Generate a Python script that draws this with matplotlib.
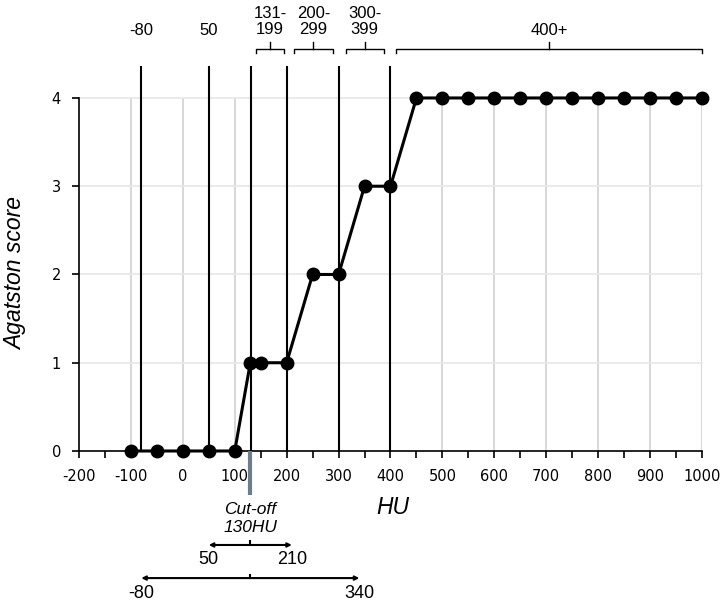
import matplotlib.pyplot as plt
import numpy as np

# Agatston score vs HU threshold
hu = [-100, -50, 0, 50, 100, 130, 150, 200, 250, 300, 350, 400,
      450, 500, 550, 600, 650, 700, 750, 800, 850, 900, 950, 1000]
score = [0, 0, 0, 0, 0, 1, 1, 1, 2, 2, 3, 3,
         4, 4, 4, 4, 4, 4, 4, 4, 4, 4, 4, 4]

# category boundaries drawn as black vertical lines
boundaries = [-80, 50, 131, 200, 300, 400]
single_labels = ['-80', '50']
single_x = [-80, 50]
range_labels = ['131-\n199', '200-\n299', '300-\n399', '400+']
range_spans = [(141, 195), (214, 289), (314, 387), (411, 1000)]

cutoff = 130
ci_inner = (50, 210)
ci_outer = (-80, 340)

plt.rcParams['font.family'] = ['Liberation Sans', 'DejaVu Sans']
plt.rcParams['axes.unicode_minus'] = False

fig = plt.figure(figsize=(7.22, 6.01), dpi=100)
ax = fig.add_axes([0.1094, 0.2496, 0.8629, 0.5874])

ax.set_xlim(-200, 1000)
ax.set_ylim(0, 4)

# light grid
for x in range(-100, 1001, 100):
    ax.plot([x, x], [0, 4], color='#d4d4d4', lw=1.3, zorder=1)
for y in [1, 2, 3, 4]:
    ax.plot([-200, 1000], [y, y], color='#e8e8e8', lw=1.2, zorder=1, clip_on=False)

top = 4.35
for b in boundaries:
    ax.plot([b, b], [0, top], color='black', lw=1.5, zorder=2, clip_on=False)

ax.plot(hu, score, color='black', lw=2.2, marker='o', ms=9, zorder=4, clip_on=False)

for s in ['top', 'right']:
    ax.spines[s].set_visible(False)
ax.spines['left'].set_linewidth(1.2)
ax.spines['bottom'].set_linewidth(1.2)

ax.set_xticks(range(-200, 1001, 100))
ax.set_xticks(range(-150, 1000, 100), minor=True)
ax.set_yticks([0, 1, 2, 3, 4])
ax.tick_params(axis='both', direction='out', length=5, width=1.2)
ax.tick_params(axis='x', which='minor', direction='out', length=5, width=1.2)
ax.tick_params(axis='x', pad=8)
ax.tick_params(axis='y', pad=8)
for lbl in ax.get_xticklabels() + ax.get_yticklabels():
    lbl.set_family('DejaVu Sans')
    lbl.set_fontsize(10.5)

fig.text(16 / 722, 1 - 274 / 601, 'Agatston score', rotation=90,
         ha='center', va='center', fontsize=16.5, style='italic')

# top labels
for lab, x in zip(single_labels, single_x):
    ax.text(x, 4.77, lab, ha='center', va='center', fontsize=12, clip_on=False)
br_y = 4.55
for lab, (x0, x1) in zip(range_labels, range_spans):
    xm = (x0 + x1) / 2
    ax.plot([x0, x0, x1, x1], [br_y - 0.04, br_y, br_y, br_y - 0.04],
            color='black', lw=1, clip_on=False)
    ax.plot([xm, xm], [br_y, br_y + 0.08], color='black', lw=1, clip_on=False)
    ly = 4.77 if '\n' not in lab else 4.87
    ax.text(xm, ly, lab, ha='center', va='center', fontsize=12,
            linespacing=1.1, clip_on=False)

# cut-off marker below the axis
ax.plot([cutoff, cutoff], [0, -0.5], color='#6f7d8b', lw=3, zorder=3,
        clip_on=False, solid_capstyle='butt')
ax.text(cutoff, -0.765, 'Cut-off\n130HU', ha='center', va='center',
        fontsize=12.5, style='italic', linespacing=1.2)
ax.text(405, -0.635, 'HU', ha='center', va='center', fontsize=16.5, style='italic')

# confidence ranges
for (lo, hi), y in [(ci_inner, -1.065), (ci_outer, -1.44)]:
    ax.annotate('', xy=(lo, y), xytext=(hi, y),
                arrowprops=dict(arrowstyle='<->', lw=1.5, color='black',
                                mutation_scale=6, shrinkA=0, shrinkB=0),
                annotation_clip=False)
    ax.plot([cutoff, cutoff], [y, y + 0.04], color='black', lw=1.5, clip_on=False)
    ax.text(lo, y - 0.17, str(lo), ha='center', va='center', fontsize=13)
    ax.text(hi, y - 0.17, str(hi), ha='center', va='center', fontsize=13)

fig.savefig('out.png', dpi=100)
